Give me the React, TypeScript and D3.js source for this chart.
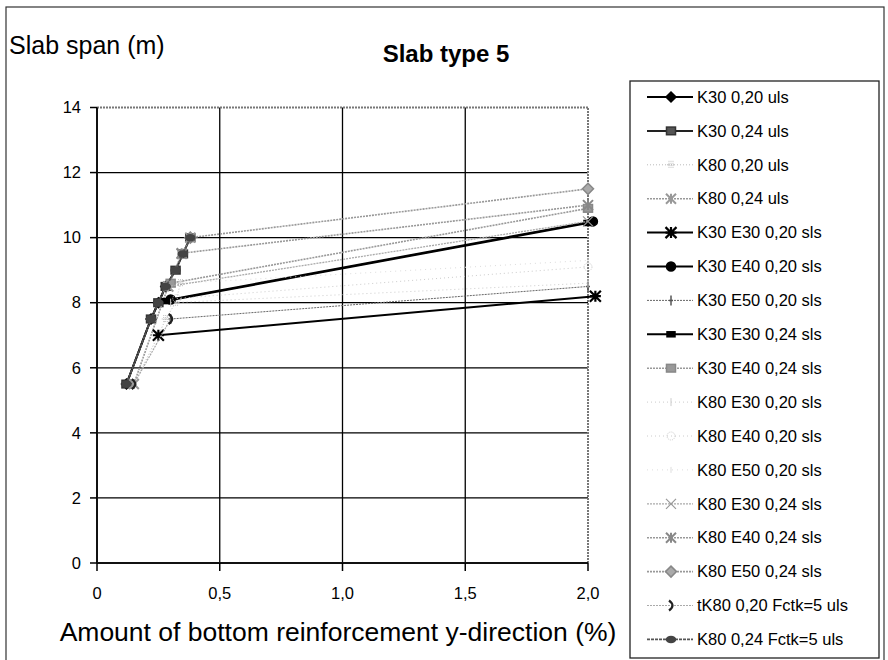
import React from "react";
import * as d3 from "d3";

const title = "Slab type 5";
const yAxisTitle = "Slab span (m)";
const xAxisTitle = "Amount of bottom reinforcement y-direction (%)";

const xTicks = [0, 0.5, 1.0, 1.5, 2.0];
const xTickLabels = ["0", "0,5", "1,0", "1,5", "2,0"];
const yTicks = [0, 2, 4, 6, 8, 10, 12, 14];

const seriesNames = [
  "K30 0,20 uls",
  "K30 0,24 uls",
  "K80 0,20 uls",
  "K80 0,24 uls",
  "K30 E30 0,20 sls",
  "K30 E40 0,20 sls",
  "K30 E50 0,20 sls",
  "K30 E30 0,24 sls",
  "K30 E40 0,24 sls",
  "K80 E30 0,20 sls",
  "K80 E40 0,20 sls",
  "K80 E50 0,20 sls",
  "K80 E30 0,24 sls",
  "K80 E40 0,24 sls",
  "K80 E50 0,24 sls",
  "tK80 0,20 Fctk=5 uls",
  "K80 0,24 Fctk=5 uls",
];

// reinforcement amount (%) per series
const seriesX: number[][] = [
  [0.12, 0.22, 0.25, 0.28],
  [0.12, 0.22, 0.25, 0.28, 0.32, 0.35, 0.38],
  [0.15, 0.25, 0.28, 0.32, 0.34],
  [0.15, 0.29, 0.345, 0.38],
  [0.25, 2.03],
  [0.3, 2.02],
  [0.3, 2.0],
  [0.28, 2.0],
  [0.3, 2.0],
  [0.3, 2.0],
  [0.325, 2.0],
  [0.34, 2.0],
  [0.29, 2.0],
  [0.345, 2.0],
  [0.38, 2.0],
  [0.15, 0.3],
  [0.12, 0.22, 0.25, 0.28, 0.32, 0.35, 0.38],
];
// slab span (m) per series
const seriesY: number[][] = [
  [5.5, 7.5, 8.0, 8.5],
  [5.5, 7.5, 8.0, 8.5, 9.0, 9.5, 10.0],
  [5.5, 7.0, 7.5, 8.0, 8.6],
  [5.5, 8.5, 9.5, 10.0],
  [7.0, 8.2],
  [8.1, 10.5],
  [7.5, 8.5],
  [8.05, 10.45],
  [8.6, 10.9],
  [8.0, 8.6],
  [8.13, 9.1],
  [8.6, 9.3],
  [8.5, 10.5],
  [9.52, 11.0],
  [10.0, 11.5],
  [5.5, 7.5],
  [5.5, 7.5, 8.0, 8.5, 9.0, 9.5, 10.0],
];

type Style = { stroke: string; width: number; dash?: string; marker: string; mfill: string; mstroke: string; msize: number };
const styles: Style[] = [
  { stroke: "#000", width: 2, marker: "diamond", mfill: "#000", mstroke: "#000", msize: 5 },
  { stroke: "#222", width: 2, marker: "square", mfill: "#555", mstroke: "#333", msize: 4.5 },
  { stroke: "#bbb", width: 1, dash: "1,2", marker: "grid", mfill: "none", mstroke: "#bbb", msize: 4 },
  { stroke: "#999", width: 1.6, dash: "2,1", marker: "xstar", mfill: "none", mstroke: "#999", msize: 5 },
  { stroke: "#000", width: 2, marker: "asterisk", mfill: "none", mstroke: "#000", msize: 5.5 },
  { stroke: "#000", width: 2, marker: "circle", mfill: "#000", mstroke: "#000", msize: 4.5 },
  { stroke: "#666", width: 1, dash: "2,1", marker: "plus", mfill: "none", mstroke: "#555", msize: 5 },
  { stroke: "#000", width: 2, marker: "dash", mfill: "#000", mstroke: "#000", msize: 4 },
  { stroke: "#999", width: 1.6, dash: "2,1", marker: "square", mfill: "#999", mstroke: "#888", msize: 4.5 },
  { stroke: "#ccc", width: 1, dash: "1,3", marker: "tick", mfill: "none", mstroke: "#ccc", msize: 4 },
  { stroke: "#ccc", width: 1, dash: "1,3", marker: "ring", mfill: "none", mstroke: "#ccc", msize: 4 },
  { stroke: "#ddd", width: 1, dash: "1,4", marker: "tick", mfill: "none", mstroke: "#ddd", msize: 3 },
  { stroke: "#aaa", width: 1.3, dash: "2,1", marker: "x", mfill: "none", mstroke: "#999", msize: 5 },
  { stroke: "#999", width: 1.6, dash: "2,1", marker: "xstar", mfill: "none", mstroke: "#888", msize: 5 },
  { stroke: "#999", width: 1.6, dash: "2,1", marker: "diamond", mfill: "#aaa", mstroke: "#888", msize: 5.5 },
  { stroke: "#aaa", width: 1.2, dash: "2,1", marker: "bracket", mfill: "none", mstroke: "#222", msize: 5 },
  { stroke: "#555", width: 1.8, dash: "3,1", marker: "oval", mfill: "#444", mstroke: "#444", msize: 3.5 },
];

function Marker({ type, cx, cy, s }: { type: string; cx: number; cy: number; s: Style }) {
  const r = s.msize;
  const common = { fill: s.mfill, stroke: s.mstroke, strokeWidth: 1.5 };
  switch (type) {
    case "diamond":
      return <path d={`M${cx},${cy - r}L${cx + r},${cy}L${cx},${cy + r}L${cx - r},${cy}Z`} {...common} />;
    case "square":
      return <rect x={cx - r} y={cy - r * 0.85} width={2 * r} height={1.7 * r} {...common} />;
    case "circle":
      return <circle cx={cx} cy={cy} r={r} {...common} />;
    case "ring":
      return <circle cx={cx} cy={cy} r={r} fill="none" stroke={s.mstroke} strokeWidth={1} strokeDasharray="1,1" />;
    case "oval":
      return <ellipse cx={cx} cy={cy} rx={r + 1} ry={r - 0.5} {...common} />;
    case "dash":
      return <rect x={cx - r} y={cy - 2.5} width={2 * r} height={5} {...common} />;
    case "asterisk":
      return (
        <path
          d={`M${cx - r},${cy - r}L${cx + r},${cy + r}M${cx - r},${cy + r}L${cx + r},${cy - r}M${cx - r},${cy}L${cx + r},${cy}M${cx},${cy - r}L${cx},${cy + r}`}
          fill="none" stroke={s.mstroke} strokeWidth={2.2}
        />
      );
    case "plus":
      return <path d={`M${cx},${cy - r}L${cx},${cy + r}M${cx - 2},${cy}L${cx + 2},${cy}`} fill="none" stroke={s.mstroke} strokeWidth={1.5} />;
    case "x":
      return <path d={`M${cx - r},${cy - r}L${cx + r},${cy + r}M${cx - r},${cy + r}L${cx + r},${cy - r}`} fill="none" stroke={s.mstroke} strokeWidth={1.2} />;
    case "xstar":
      return (
        <path
          d={`M${cx - r},${cy - r}L${cx + r},${cy + r}M${cx - r},${cy + r}L${cx + r},${cy - r}M${cx},${cy - r}L${cx},${cy + r}`}
          fill="none" stroke={s.mstroke} strokeWidth={2}
        />
      );
    case "grid":
      return <path d={`M${cx - r},${cy}L${cx + r},${cy}M${cx},${cy - r}L${cx},${cy + r}M${cx - 2},${cy - r}L${cx - 2},${cy + r}M${cx + 2},${cy - r}L${cx + 2},${cy + r}`} fill="none" stroke={s.mstroke} strokeWidth={1} strokeDasharray="1,1" />;
    case "tick":
      return <path d={`M${cx},${cy - r}L${cx},${cy + r}`} fill="none" stroke={s.mstroke} strokeWidth={1} />;
    case "bracket":
      return <path d={`M${cx - 2},${cy - r}Q${cx + 5},${cy} ${cx - 2},${cy + r}`} fill="none" stroke={s.mstroke} strokeWidth={2.2} />;
    default:
      return null;
  }
}

export default function App() {
  const W = 888, H = 660;
  const x = d3.scaleLinear().domain([0, 2]).range([97, 588]);
  const y = d3.scaleLinear().domain([0, 14]).range([563, 107.5]);
  const line = d3.line<[number, number]>().x((d) => x(d[0])).y((d) => y(d[1]));
  const font = "'Liberation Sans', Arial, Helvetica, sans-serif";

  const legendX = 630, legendY = 81, legendW = 249, legendH = 577;
  const entryY0 = 97, entryStep = 33.9;

  return (
    <div style={{ position: "fixed", left: 0, top: 0 }}>
      <svg width={W} height={H} style={{ display: "block", background: "#fff" }} fontFamily={font}>
        {/* outer frame */}
        <rect x={6} y={7} width={878} height={670} fill="none" stroke="#333" strokeWidth={1.2} />
        {/* titles */}
        <text x={9} y={54} fontSize={25} fill="#000">{yAxisTitle}</text>
        <text x={446} y={62} fontSize={24} fontWeight="bold" textAnchor="middle" fill="#000">{title}</text>
        <text x={338} y={641} fontSize={26.5} textAnchor="middle" fill="#000">{xAxisTitle}</text>

        {/* gridlines */}
        {yTicks.filter((t) => t > 0 && t < 14).map((t) => (
          <line key={"gy" + t} x1={x(0)} x2={x(2)} y1={y(t)} y2={y(t)} stroke="#000" strokeWidth={1.3} />
        ))}
        {xTicks.filter((t) => t > 0 && t < 2).map((t) => (
          <line key={"gx" + t} x1={x(t)} x2={x(t)} y1={y(0)} y2={y(14)} stroke="#000" strokeWidth={1.3} />
        ))}
        {/* plot border top/right (grey) */}
        <line x1={x(0)} x2={x(2)} y1={y(14)} y2={y(14)} stroke="#777" strokeWidth={2} strokeDasharray="2,1" />
        <line x1={x(2)} x2={x(2)} y1={y(0)} y2={y(14)} stroke="#777" strokeWidth={2} strokeDasharray="2,1" />
        {/* axes */}
        <line x1={x(0)} x2={x(0)} y1={y(0)} y2={y(14)} stroke="#111" strokeWidth={2} />
        <line x1={x(0)} x2={x(2)} y1={y(0)} y2={y(0)} stroke="#111" strokeWidth={2} />
        {yTicks.map((t) => (
          <g key={"yt" + t}>
            <line x1={x(0) - 7} x2={x(0)} y1={y(t)} y2={y(t)} stroke="#000" strokeWidth={1.5} />
            <text x={x(0) - 16} y={y(t)} dy="0.35em" fontSize={16.5} textAnchor="end">{t}</text>
          </g>
        ))}
        {xTicks.map((t, i) => (
          <g key={"xt" + t}>
            <line x1={x(t)} x2={x(t)} y1={y(0)} y2={y(0) + 8} stroke="#000" strokeWidth={1.5} />
            <text x={x(t)} y={599} fontSize={16.5} textAnchor="middle">{xTickLabels[i]}</text>
          </g>
        ))}

        {/* series */}
        {seriesNames.map((name, si) => {
          const pts = seriesX[si].map((v, j) => [v, seriesY[si][j]] as [number, number]);
          const s = styles[si];
          return (
            <g key={name}>
              <path d={line(pts) || ""} fill="none" stroke={s.stroke} strokeWidth={s.width} strokeDasharray={s.dash} />
              {pts.map((p, j) => (
                <Marker key={j} type={s.marker} cx={x(p[0])} cy={y(p[1])} s={s} />
              ))}
            </g>
          );
        })}

        {/* legend */}
        <rect x={legendX} y={legendY} width={legendW} height={legendH} fill="#fff" stroke="#222" strokeWidth={1.3} />
        {seriesNames.map((name, si) => {
          const s = styles[si];
          const ly = entryY0 + si * entryStep;
          return (
            <g key={"lg" + name}>
              <line x1={647} x2={693} y1={ly} y2={ly} stroke={s.stroke} strokeWidth={s.width} strokeDasharray={s.dash} />
              <Marker type={s.marker} cx={671} cy={ly} s={s} />
              <text x={697} y={ly} dy="0.35em" fontSize={16.5} fill="#000">{name}</text>
            </g>
          );
        })}
      </svg>
    </div>
  );
}
